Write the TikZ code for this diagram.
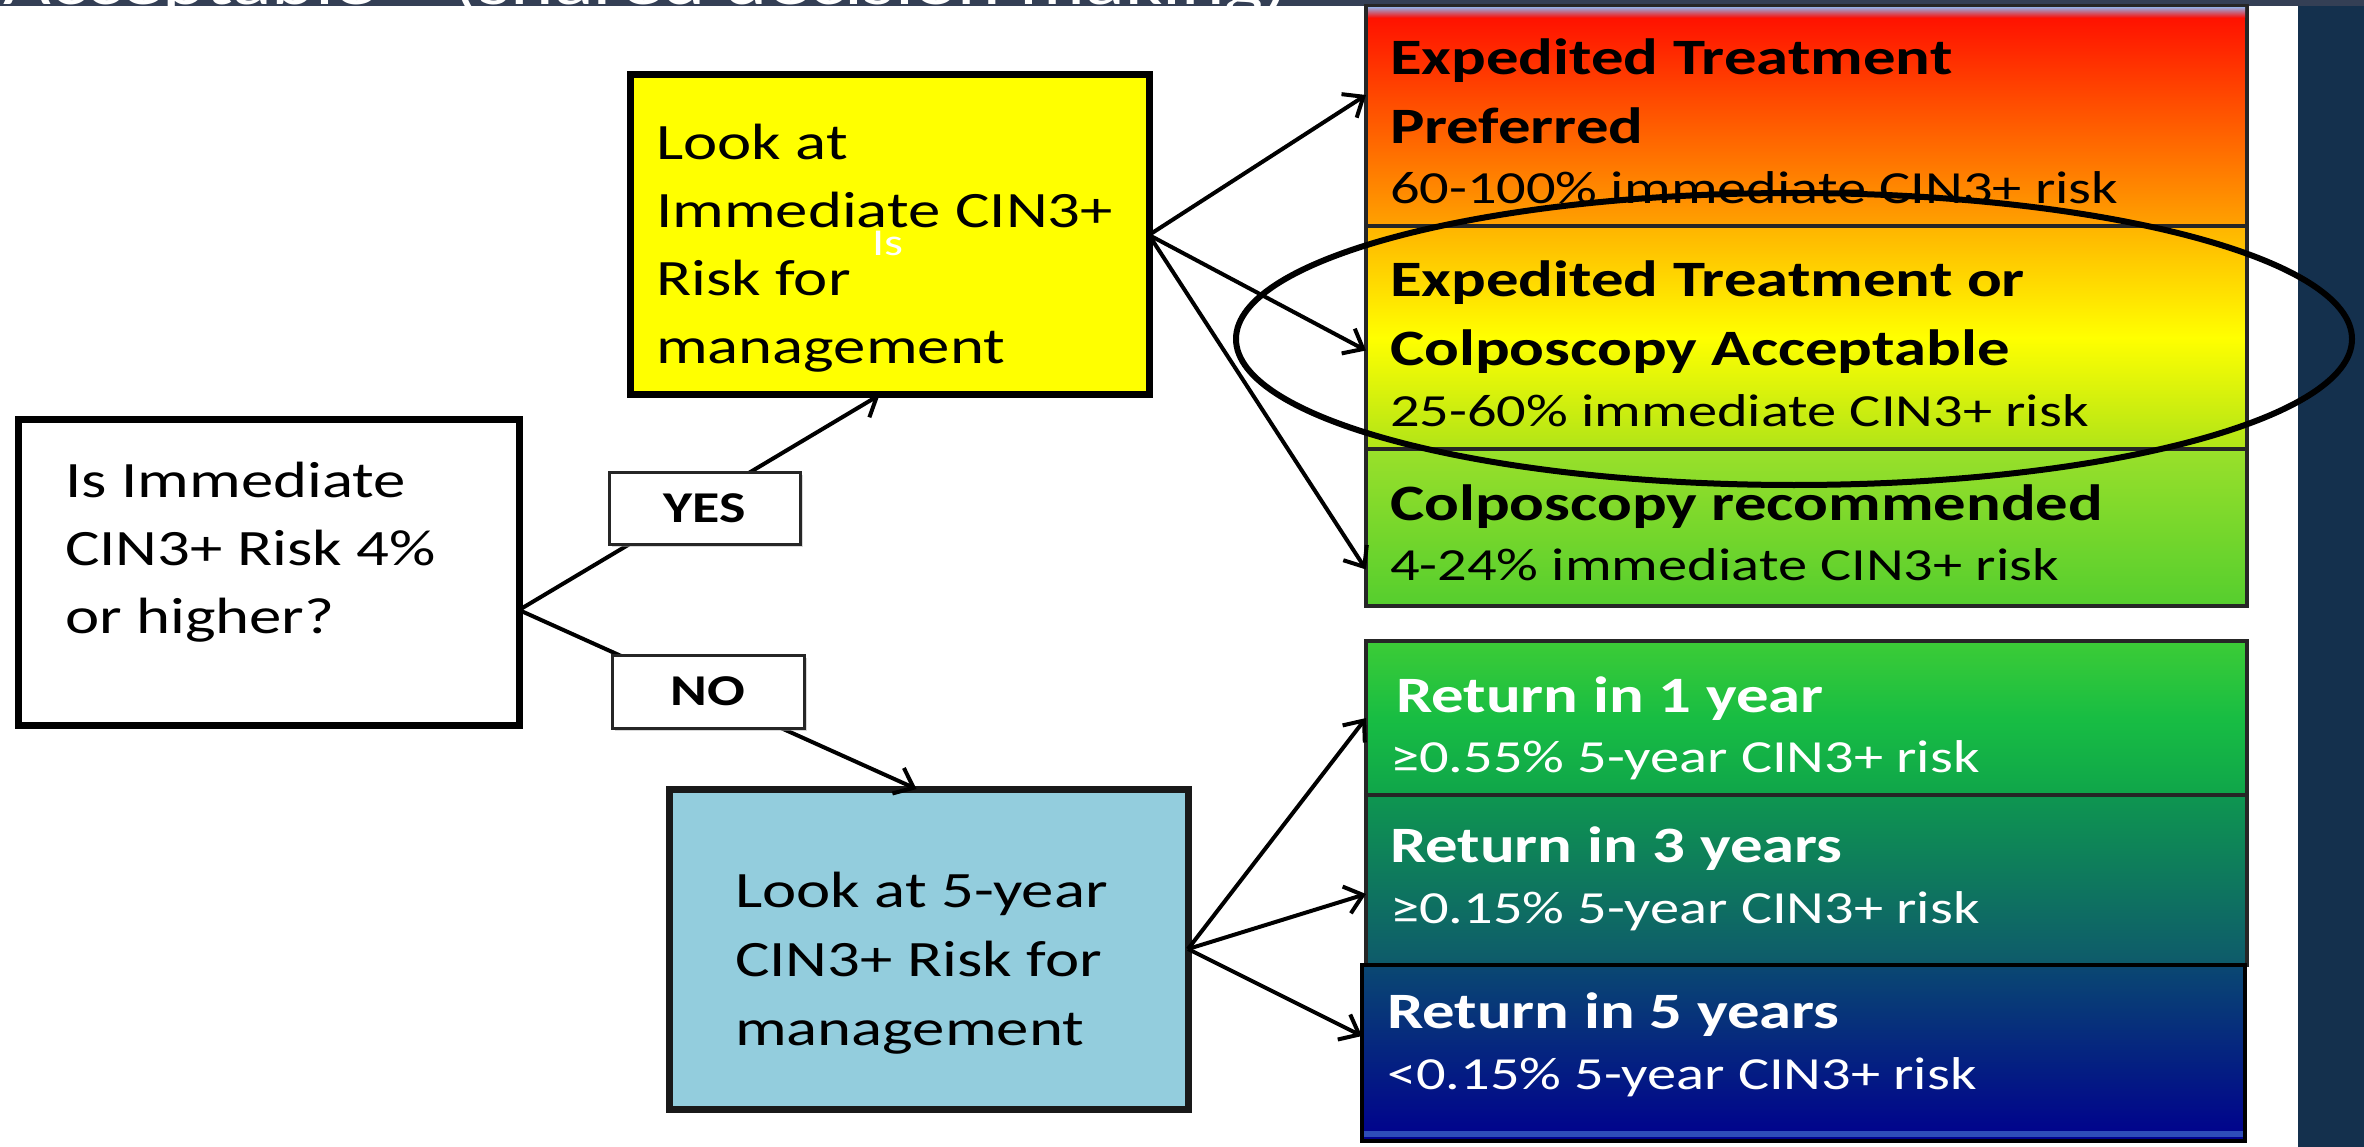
\documentclass[tikz,border=0pt]{standalone}
\usepackage{fontspec}
\setmainfont{Carlito}[FakeStretch=1.27]
\usetikzlibrary{arrows.meta,shadows}
\definecolor{bandcol}{HTML}{343F55}
\definecolor{barcol}{HTML}{14304D}
\definecolor{lblue}{HTML}{93CDDD}
\definecolor{ylw}{HTML}{FFFF00}
\definecolor{cAt}{HTML}{FF0A00}
\definecolor{cAb}{HTML}{FFA200}
\definecolor{cBt}{HTML}{FFB400}
\definecolor{cBm}{HTML}{FFFF00}
\definecolor{cBb}{HTML}{B0E418}
\definecolor{cCt}{HTML}{9AE02A}
\definecolor{cCb}{HTML}{55CE2E}
\definecolor{cDt}{HTML}{3CCC36}
\definecolor{cDm}{HTML}{18BD43}
\definecolor{cDb}{HTML}{0FA54A}
\definecolor{cEt}{HTML}{0E9650}
\definecolor{cEb}{HTML}{0E5A6B}
\definecolor{cFt}{HTML}{0A4872}
\definecolor{cFb}{HTML}{00008E}
\definecolor{cFline}{HTML}{2E4DB8}
\definecolor{lav}{HTML}{9FA0D0}
\begin{document}
\begin{tikzpicture}[x=1pt,y=-1pt]
\tikzset{
 every node/.style={inner sep=0pt,outer sep=0pt},
 bigbox/.style={rectangle,draw=black,line width=7pt},
 labbox/.style={rectangle,draw=black!85,line width=3pt,fill=white,minimum width=191pt,minimum height=72pt,font=\fontsize{44}{50}\selectfont\bfseries,drop shadow={shadow xshift=3pt,shadow yshift=-3pt,fill=black!30}},
 colbox/.style={rectangle,draw=black!85,line width=4pt,minimum width=881pt},
 body/.style={anchor=north west,align=left,font=\fontsize{51}{68}\selectfont},
 head/.style={anchor=north west,align=left,font=\fontsize{51}{69}\selectfont\bfseries},
 headone/.style={anchor=base west,font=\fontsize{51}{60}\selectfont\bfseries},
 sub/.style={anchor=base west,font=\fontsize{46}{55}\selectfont},
 conn/.style={line width=4pt,-{Straight Barb[length=17pt,width=28pt]}},
}
\useasboundingbox (0,0) rectangle (2364,1147);
\fill[white] (0,0) rectangle (2364,1147);
\fill[barcol] (2298,0) rectangle (2364,1147);
\fill[bandcol] (0,0) rectangle (2364,6);
\begin{scope}
\clip (0,0) rectangle (2298,6);
\node[anchor=base west,text=white,font=\fontsize{65}{70}\selectfont] (band) at (4,5) {Acceptable -- (shared decision making)};
\end{scope}

% main boxes
\node[bigbox,fill=white,minimum width=501pt,minimum height=306pt] (q) at (268.5,572) {};
\node[bigbox,fill=ylw,minimum width=519pt,minimum height=320pt] (imm) at (889.5,235) {};
\node[bigbox,draw=black!90,fill=lblue,minimum width=519pt,minimum height=320pt] (five) at (928.5,949) {};

% colour column
\node[colbox,minimum height=220pt,top color=cAt,bottom color=cAb] (c1) at (1806.5,116) {};
\shade[top color=lav,bottom color=cAt] (1368,8) rectangle (2245,18);
\node[colbox,minimum height=223pt,top color=cBt,bottom color=cBb,middle color=cBm] (c2) at (1806.5,337.5) {};
\node[colbox,minimum height=157pt,top color=cCt,bottom color=cCb] (c3) at (1806.5,527.5) {};
\node[colbox,minimum height=154pt,top color=cDt,bottom color=cDb,middle color=cDm] (c4) at (1806.5,718) {};
\node[colbox,minimum height=170pt,top color=cEt,bottom color=cEb] (c5) at (1806.5,880) {};
\node[colbox,draw=black,minimum width=883pt,minimum height=176pt,top color=cFt,bottom color=cFb] (c6) at (1803.5,1053) {};
\fill[cFline] (1364,1131) rectangle (2243,1137);

% connectors
\draw[conn] ([yshift=-38pt]q.east) -- ([xshift=-10pt]imm.south);
\draw[conn] ([yshift=-38pt]q.east) -- ([xshift=-12pt]five.north);
\draw[conn] (imm.east) -- ([yshift=21pt]c1.west);
\draw[conn] (imm.east) -- ([yshift=-13pt]c2.west);
\draw[conn] (imm.east) -- ([yshift=-42pt]c3.west);
\draw[conn] (five.east) -- (c4.west);
\draw[conn] (five.east) -- ([yshift=-14pt]c5.west);
\draw[conn] (five.east) -- ([yshift=17pt]c6.west);

\node[labbox] (yes) at (704.5,508) {YES};
\node[labbox,minimum width=192pt,minimum height=73pt] (no) at (708,691.5) {NO};

% texts
\node[body] (qtext) at (65,457) {\rule{0pt}{40pt}Is Immediate\\CIN3+ Risk 4\%\\or higher?};
\node[body] (immtext) at (656,120) {\rule{0pt}{40pt}Look at\\Immediate CIN3+\\Risk for\\management};
\node[body,font=\fontsize{51}{69}\selectfont] (fivetext) at (735,867) {\rule{0pt}{40pt}Look at 5-year\\CIN3+ Risk for\\management};
\node[anchor=base west,text=white,font=\fontsize{38}{40}\selectfont] (stray) at (872,256) {Is};

\node[head] (t1h) at (1390,35) {\rule{0pt}{40pt}Expedited Treatment\\Preferred};
\node[sub] (t1s) at (1390,204) {60-100\% immediate CIN3+ risk};
\node[head] (t2h) at (1390,257) {\rule{0pt}{40pt}Expedited Treatment or\\Colposcopy Acceptable};
\node[sub] (t2s) at (1390,427) {25-60\% immediate CIN3+ risk};
\node[headone] (t3h) at (1390,520) {Colposcopy recommended};
\node[sub] (t3s) at (1390,580) {4-24\% immediate CIN3+ risk};
\node[headone,text=white] (t4h) at (1396,712) {Return in 1 year};
\node[sub,text=white] (t4s) at (1390,772) {≥0.55\% 5-year CIN3+ risk};
\node[headone,text=white] (t5h) at (1390,862) {Return in 3 years};
\node[sub,text=white] (t5s) at (1390,923) {≥0.15\% 5-year CIN3+ risk};
\node[headone,text=white] (t6h) at (1387,1028) {Return in 5 years};
\node[sub,text=white] (t6s) at (1387,1089) {<0.15\% 5-year CIN3+ risk};

% highlight ellipse
\draw[line width=6pt] (1794,339) ellipse [x radius=558, y radius=146];
\end{tikzpicture}
\end{document}
